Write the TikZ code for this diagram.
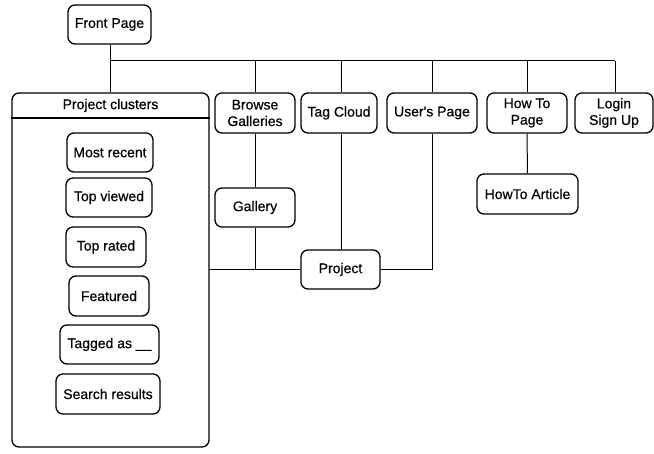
\documentclass[tikz,border=0pt]{standalone}
\usepackage{fontspec}
\setmainfont{Liberation Sans}
\newfontfamily\lblfont[FakeBold=0.5]{Liberation Sans}
\begin{document}
\begin{tikzpicture}[x=1pt,y=-1pt,
  lbl/.style={font=\lblfont\fontsize{14}{16.5}\selectfont},
  box/.style={draw, rounded corners=7pt, line width=1.3pt, align=center,
    inner sep=0pt, lbl},
  link/.style={line width=1pt}]
\useasboundingbox (0,0) rectangle (654,454);

% top level pages
\node[box, minimum width=83, minimum height=39] (front) at (109.5,24.5) {Front Page};
\node[box, minimum width=80, minimum height=40] (browse) at (255,113) {Browse\\Galleries};
\node[box, minimum width=76, minimum height=40] (tag) at (339,113) {Tag Cloud};
\node[box, minimum width=90, minimum height=40] (users) at (432,113) {User's Page};
\node[box, minimum width=80, minimum height=40] (howto) at (527,113) {How To\\Page};
\node[box, minimum width=78, minimum height=40] (login) at (614,113) {Login\\Sign Up};

% second level pages
\node[box, minimum width=80, minimum height=39] (gallery) at (255,207.5) {Gallery};
\node[box, minimum width=79, minimum height=39] (project) at (340.5,269.5) {Project};
\node[box, minimum width=101, minimum height=40] (article) at (527.5,194) {HowTo Article};

% project clusters container
\node[box, minimum width=197, minimum height=354] (clusters) at (110.5,270) {};
\node[lbl, inner sep=0pt] (clhead) at (110.5,105.5) {Project clusters};
\draw[line width=1.3pt] (clusters.west |- 0,118) -- (clusters.east |- 0,118);

\node[box, minimum width=86, minimum height=39] (recent) at (110,152.5) {Most recent};
\node[box, minimum width=86, minimum height=39] (viewed) at (109,197.5) {Top viewed};
\node[box, minimum width=80, minimum height=40] (rated) at (106,247) {Top rated};
\node[box, minimum width=80, minimum height=40] (featured) at (109,296) {Featured};
\node[box, minimum width=99, minimum height=39] (tagged) at (109.5,344.5) {Tagged as \_\_};
\node[box, minimum width=104, minimum height=40] (search) at (108,394) {Search results};

% navigation bus from the front page
\coordinate (busL) at (110,61);
\coordinate (busR) at (615,61);
\draw[link] (busL) -- (busR);
\draw[link] (front.south -| busL) -- (clusters.north -| busL);
\draw[link] (browse.north) -- (browse.north |- busL);
\draw[link] (tag.north -| 341,0) -- (busL -| 341,0);
\draw[link] (users.north) -- (users.north |- busL);
\draw[link] (howto.north) -- (howto.north |- busL);
\draw[link] (login.north -| busR) -- (busR);

% links down to the detail pages
\draw[link] (browse.south) -- (gallery.north);
\draw[link] (gallery.south) -- (gallery.south |- project.west);
\draw[link] (project.west -| clusters.east) -- (project.west);
\draw[link] (project.north -| 341,0) -- (tag.south -| 341,0);
\draw[link] (project.east) -- (project.east -| users.south) -- (users.south);
\draw[link] (howto.south) -- (article.north);
\end{tikzpicture}
\end{document}
